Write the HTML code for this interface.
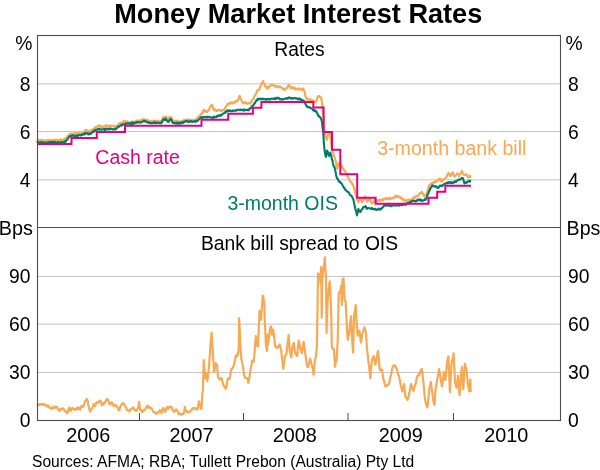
<!DOCTYPE html><html><head><meta charset="utf-8"><style>html,body{margin:0;padding:0;background:#fff;width:600px;height:470px;overflow:hidden}svg{display:block;will-change:transform}</style></head><body><svg width="600" height="470" viewBox="0 0 600 470">
<rect width="600" height="470" fill="#fff"/>
<line x1="38" x2="560" y1="83.8" y2="83.8" stroke="#c6c6c6" stroke-width="1"/>
<line x1="38" x2="560" y1="131.5" y2="131.5" stroke="#c6c6c6" stroke-width="1"/>
<line x1="38" x2="560" y1="179.8" y2="179.8" stroke="#c6c6c6" stroke-width="1"/>
<line x1="38" x2="560" y1="276.5" y2="276.5" stroke="#c6c6c6" stroke-width="1"/>
<line x1="38" x2="560" y1="324.2" y2="324.2" stroke="#c6c6c6" stroke-width="1"/>
<line x1="38" x2="560" y1="372.5" y2="372.5" stroke="#c6c6c6" stroke-width="1"/>
<line x1="139.5" x2="139.5" y1="413" y2="420" stroke="#4a4a4a" stroke-width="1"/>
<line x1="243.5" x2="243.5" y1="413" y2="420" stroke="#4a4a4a" stroke-width="1"/>
<line x1="348" x2="348" y1="413" y2="420" stroke="#4a4a4a" stroke-width="1"/>
<line x1="453.5" x2="453.5" y1="413" y2="420" stroke="#4a4a4a" stroke-width="1"/>
<polyline points="37.0,405.2 37.6,404.8 38.2,405.2 38.8,404.4 39.4,405.2 39.9,403.9 40.5,404.6 41.0,404.7 41.5,404.4 42.0,403.8 42.5,404.8 43.0,403.9 43.5,404.7 44.0,404.9 44.6,404.3 45.1,404.5 45.7,405.4 46.3,405.8 46.9,406.6 47.5,405.3 48.1,405.6 48.7,406.3 49.3,407.1 49.9,408.2 50.4,408.0 51.0,408.4 51.6,407.9 52.1,408.8 52.7,406.7 53.3,407.3 53.9,408.1 54.5,407.0 55.1,406.7 55.7,407.5 56.3,406.7 56.8,407.0 57.4,407.3 58.0,409.2 58.6,409.1 59.2,411.0 59.8,410.6 60.4,410.1 60.9,409.0 61.5,408.7 62.1,409.0 62.6,408.3 63.2,408.5 63.8,409.6 64.4,409.7 65.0,411.3 65.6,411.6 66.2,412.0 66.7,412.4 67.3,413.3 67.9,411.5 68.5,409.3 69.1,407.5 69.7,408.3 70.2,410.4 70.8,411.0 71.4,409.9 72.0,408.1 72.6,407.9 73.2,408.8 73.7,409.1 74.3,409.3 74.9,409.9 75.5,409.5 76.1,408.4 76.7,408.7 77.3,409.4 77.8,407.3 78.4,407.6 79.0,407.5 79.6,409.2 80.2,409.8 80.8,407.4 81.3,406.3 81.9,406.5 82.5,405.8 83.1,406.9 83.7,405.5 84.2,404.0 84.8,401.7 85.4,400.9 86.0,400.5 86.6,398.8 87.2,399.6 87.8,401.1 88.3,404.7 88.9,407.5 89.5,409.7 90.1,411.6 90.7,410.8 91.2,409.6 91.8,408.7 92.4,407.8 93.0,406.5 93.6,404.0 94.2,404.7 94.7,405.9 95.3,406.3 95.9,403.4 96.5,402.3 97.1,402.6 97.7,402.3 98.2,402.8 98.8,401.7 99.4,401.9 100.0,400.5 100.6,400.5 101.2,402.6 101.8,405.2 102.4,405.1 102.9,403.4 103.5,404.0 104.0,403.4 104.5,402.3 105.0,402.5 105.6,400.9 106.2,399.9 106.7,400.4 107.3,399.0 107.9,399.6 108.5,401.1 109.1,402.8 109.7,404.3 110.3,404.6 110.8,402.6 111.4,402.8 112.0,402.5 112.6,403.8 113.2,405.6 113.8,406.0 114.4,406.2 114.9,405.9 115.5,404.8 116.1,405.2 116.7,406.2 117.3,407.2 117.9,407.9 118.4,409.9 119.0,410.1 119.6,409.6 120.2,406.7 120.8,406.0 121.4,404.6 121.9,404.0 122.5,403.3 123.1,403.1 123.7,403.8 124.2,404.8 124.8,405.4 125.4,406.3 126.0,407.1 126.6,409.5 127.2,409.8 127.8,410.1 128.3,411.0 128.9,411.3 129.5,411.4 130.1,410.1 130.7,408.9 131.3,408.7 131.8,408.6 132.4,408.4 133.0,407.8 133.6,407.5 134.2,409.7 134.8,409.5 135.4,410.5 135.9,411.0 136.5,410.7 137.1,410.1 137.7,408.2 138.3,407.2 139.2,401.9 140.0,409.5 140.6,410.1 141.2,410.2 141.8,411.8 142.4,411.9 142.9,410.6 143.5,411.3 144.1,409.8 144.7,409.5 145.3,409.5 145.9,407.7 146.4,406.8 147.0,406.0 147.6,405.7 148.2,406.2 148.8,407.8 149.4,407.3 149.9,407.3 150.5,408.3 151.1,408.4 151.7,408.2 152.3,409.5 152.9,411.2 153.4,411.7 154.0,412.4 154.6,412.1 155.2,412.8 155.7,413.4 156.3,414.2 156.9,413.3 157.5,412.2 158.1,412.4 158.7,412.3 159.2,411.9 159.8,410.1 160.4,411.0 161.0,412.0 161.6,413.0 162.2,410.4 162.7,408.7 163.3,407.8 163.9,408.8 164.5,410.0 165.1,411.8 165.7,411.1 166.2,408.5 166.8,407.8 167.4,407.0 168.0,409.0 168.6,408.3 169.2,407.8 169.7,406.5 170.3,406.6 170.8,406.8 171.3,406.8 171.9,407.6 172.6,410.2 173.2,410.6 173.7,411.8 174.3,411.1 174.9,411.3 175.4,410.4 176.0,409.4 176.6,409.5 177.2,410.6 177.8,412.0 178.5,414.0 179.1,413.2 179.6,414.3 180.2,413.6 180.8,414.0 181.3,414.8 181.9,414.5 182.5,414.0 183.0,413.6 183.6,414.0 184.2,411.0 184.9,406.8 185.6,409.7 186.2,410.6 186.8,411.7 187.3,412.1 187.9,411.9 188.5,412.7 189.0,412.6 189.6,412.3 190.2,411.1 190.7,410.9 191.3,410.2 191.9,409.5 192.4,408.4 193.0,408.9 193.6,407.8 194.1,408.2 194.7,408.5 195.3,408.2 195.8,409.2 196.4,408.9 197.1,409.6 197.7,408.5 198.3,404.8 198.9,401.3 199.6,404.3 200.2,405.5 200.8,408.2 201.5,408.9 202.3,393.6 203.0,390.0 203.7,360.2 204.2,367.1 204.7,371.9 205.2,378.1 205.7,376.0 206.2,374.6 206.7,373.6 207.4,381.1 207.9,376.0 208.4,371.6 208.9,367.7 209.4,360.5 209.9,353.6 210.4,345.3 211.0,339.7 211.6,332.7 212.1,341.2 212.7,349.8 213.4,361.3 214.1,372.1 214.6,369.7 215.1,365.3 215.6,363.2 216.1,364.0 216.6,365.0 217.1,364.7 217.9,376.6 218.4,377.9 219.0,378.6 219.6,378.8 220.1,379.6 220.6,378.5 221.1,379.2 221.6,378.1 222.1,379.7 222.6,382.6 223.1,384.0 223.6,385.9 224.1,385.8 224.6,387.0 225.1,387.3 225.6,388.9 226.1,388.5 226.6,386.0 227.1,381.9 227.6,379.6 228.2,378.5 228.7,378.2 229.2,379.3 229.8,378.1 230.3,375.7 230.8,371.5 231.3,369.2 231.9,369.1 232.4,368.7 232.9,367.3 233.5,366.2 234.0,364.8 234.5,361.7 235.1,359.2 235.6,356.3 236.1,355.3 236.6,354.8 237.2,356.4 237.7,355.2 238.2,352.3 238.8,348.8 239.1,318.1 239.8,331.9 240.4,345.6 240.9,353.4 241.4,359.5 241.9,361.5 242.5,364.5 243.0,365.9 243.6,371.3 244.1,375.4 244.6,376.2 245.2,378.1 245.7,377.7 246.2,377.9 246.8,378.0 247.3,378.6 247.9,380.9 248.4,382.9 248.9,379.8 249.4,377.6 249.9,373.9 250.5,369.7 251.0,366.9 251.6,364.5 252.1,360.5 252.6,360.6 253.2,361.1 253.7,361.6 254.2,356.5 254.7,351.0 255.2,344.3 255.8,336.0 256.5,342.0 257.0,343.4 257.5,346.0 258.0,346.7 258.5,334.7 259.0,322.7 259.5,310.6 260.0,313.7 260.6,315.7 261.1,319.7 261.6,311.6 262.2,303.1 262.7,295.7 263.2,297.0 263.8,300.9 264.3,302.6 264.9,324.0 265.4,333.8 265.9,345.0 266.4,347.9 267.0,351.0 267.5,334.6 268.0,344.6 268.6,341.1 269.1,336.7 269.6,332.2 270.2,327.4 271.1,326.4 271.6,330.3 272.1,334.9 272.6,332.3 273.2,329.6 273.8,334.0 274.3,338.1 274.8,342.9 275.3,346.6 275.8,346.2 276.4,347.5 276.9,347.3 277.4,348.2 277.9,346.8 278.5,346.9 279.1,345.4 279.6,344.5 280.1,346.4 280.7,348.6 281.2,349.8 281.7,355.9 282.2,360.4 282.8,364.5 283.3,368.9 283.8,364.9 284.4,360.4 284.9,356.2 285.4,355.5 286.0,355.1 286.5,354.0 287.1,348.6 287.6,343.4 288.1,339.2 288.6,334.9 289.1,342.3 289.7,349.8 290.2,353.1 290.8,355.1 291.3,357.2 291.8,352.7 292.3,346.6 292.8,346.3 293.4,343.7 293.9,342.9 294.4,347.5 295.0,351.9 295.5,353.9 296.1,354.7 296.6,354.4 297.1,356.2 297.6,350.3 298.2,345.8 298.7,340.7 299.2,342.5 299.8,345.5 300.3,348.7 300.8,349.3 301.4,351.9 301.9,353.0 302.4,349.8 303.0,346.3 303.5,341.8 304.0,344.5 304.6,349.0 305.1,351.9 305.6,356.5 306.2,359.7 306.7,364.7 307.2,366.2 307.8,367.0 308.3,366.8 308.9,363.5 309.4,362.3 310.0,358.7 310.5,360.3 311.1,362.2 311.6,364.0 312.1,367.1 312.7,368.3 313.2,372.2 313.7,374.7 314.2,367.1 314.8,360.9 315.4,358.6 315.9,356.6 316.4,351.3 316.9,346.0 317.5,310.0 318.0,273.4 318.5,273.8 319.1,274.2 319.6,275.5 320.1,278.9 320.6,283.0 321.2,267.0 321.7,317.7 322.2,280.0 322.7,275.9 323.3,270.0 323.8,266.5 324.4,261.8 324.9,257.4 325.4,267.7 326.0,280.0 326.5,333.0 327.1,316.5 327.6,300.6 328.1,295.5 328.6,290.0 329.1,285.7 329.7,281.4 330.2,289.8 330.7,300.0 331.3,316.6 331.8,347.0 332.3,348.5 332.9,348.6 333.4,349.5 333.9,349.1 334.4,357.1 335.0,366.7 335.5,363.9 336.1,361.2 336.6,359.8 337.1,350.8 337.7,340.6 338.2,321.9 338.7,293.2 339.2,292.4 339.8,291.9 340.3,292.3 340.9,286.0 341.4,295.3 341.9,305.0 342.4,279.6 342.9,279.9 343.5,278.5 344.1,290.3 344.6,300.9 345.1,300.4 345.6,300.9 346.1,311.1 346.7,322.8 347.2,332.1 347.8,339.8 348.3,337.1 348.9,334.5 349.4,331.3 349.9,325.5 350.5,320.5 351.0,316.4 351.5,327.9 352.0,338.7 352.6,345.5 353.1,352.6 353.6,333.1 354.1,315.3 354.6,312.8 355.2,308.8 355.7,305.1 356.2,315.1 356.7,323.8 357.6,335.7 358.2,333.2 358.7,333.0 359.3,330.6 359.9,333.7 360.4,339.3 361.0,342.6 361.6,339.1 362.1,335.4 362.7,332.3 363.3,330.7 363.8,329.8 364.4,327.2 365.0,329.0 365.5,331.0 366.1,334.0 366.9,347.7 367.5,352.9 368.0,357.4 368.6,363.0 369.2,367.3 369.7,372.5 370.3,378.3 370.9,371.2 371.4,365.2 372.0,359.6 372.6,358.1 373.1,356.9 373.7,356.2 374.3,359.6 374.8,361.4 375.4,364.7 375.9,362.0 376.4,358.6 377.0,356.2 377.5,352.9 378.0,351.1 378.6,356.8 379.1,362.6 379.7,369.8 380.2,370.3 380.7,370.0 381.2,369.3 381.7,369.9 382.2,370.0 383.0,377.0 383.6,380.2 384.2,380.9 384.8,384.7 385.4,386.4 385.9,385.9 386.4,385.7 386.9,386.0 387.4,384.8 387.9,384.7 388.4,384.7 388.9,384.0 389.4,382.7 389.9,379.1 390.4,377.7 390.9,375.2 391.4,372.7 391.9,369.9 392.4,367.8 393.0,366.9 393.5,365.7 394.1,365.3 394.7,365.4 395.3,365.5 395.9,367.8 396.5,368.3 397.1,370.0 397.6,372.0 398.2,374.8 398.9,375.9 399.5,378.7 400.1,381.9 400.6,384.5 401.1,386.6 401.7,388.8 402.4,391.4 402.9,388.5 403.5,386.0 404.0,384.0 404.7,389.9 405.4,396.6 405.9,397.4 406.5,397.6 407.1,399.0 407.6,400.0 408.1,397.4 408.6,396.7 409.1,393.6 409.7,391.3 410.4,387.3 411.0,384.0 411.6,385.2 412.2,388.4 412.8,388.9 413.4,391.0 413.9,389.2 414.4,386.9 414.9,386.1 415.4,384.7 415.9,383.2 416.4,380.1 416.9,377.0 417.5,375.9 418.1,375.9 418.7,374.4 419.3,374.8 419.8,373.2 420.3,371.7 420.8,371.1 421.3,369.2 421.8,369.0 422.3,372.3 422.8,377.1 423.3,381.7 423.9,387.4 424.5,394.4 425.1,400.5 425.7,402.3 426.2,404.5 426.8,406.1 427.4,407.5 428.0,401.8 428.7,396.0 429.3,389.1 429.8,386.4 430.4,383.9 430.9,381.8 431.5,387.4 432.1,390.4 432.7,396.3 433.3,400.5 433.9,403.0 434.5,405.0 435.1,396.0 435.6,388.8 436.3,385.1 437.0,380.0 437.5,378.0 438.1,374.8 438.6,372.2 439.1,369.0 439.7,373.1 440.2,375.2 440.8,379.5 441.3,382.9 441.9,386.4 442.4,383.5 442.9,379.8 443.4,376.3 443.9,372.0 444.4,374.8 444.9,378.1 445.4,380.0 445.9,375.0 446.4,369.6 446.9,363.8 447.4,360.8 447.9,357.9 448.4,356.4 448.9,367.6 449.4,379.9 449.9,392.1 450.4,381.9 450.9,373.9 451.4,363.8 451.9,361.3 452.5,358.9 453.1,356.3 453.6,353.4 454.1,363.7 454.6,373.2 455.1,383.2 455.6,383.7 456.1,386.8 456.6,387.7 457.1,384.2 457.6,379.7 458.1,375.7 458.6,382.2 459.1,389.0 459.6,395.1 460.2,387.2 460.7,381.4 461.2,373.4 461.8,366.8 462.3,373.4 462.8,381.2 463.3,389.1 463.8,381.1 464.3,371.6 464.8,363.8 465.3,365.8 465.8,367.8 466.3,368.3 466.8,373.3 467.3,378.0 467.8,383.2 468.3,385.9 468.8,389.0 469.3,391.4 469.8,386.0 470.3,379.5 470.7,392.1" fill="none" stroke="#f8a954" stroke-width="2.2" stroke-linejoin="round"/>
<polyline points="37.0,140.5 37.5,140.7 38.0,140.7 38.5,139.8 39.0,140.0 39.5,140.1 40.0,140.9 40.5,140.2 41.0,140.7 41.5,139.8 42.0,139.9 42.5,140.2 43.0,140.9 43.5,140.9 44.0,140.9 44.5,140.3 45.0,140.6 45.5,140.6 46.0,140.5 46.5,140.5 47.0,139.9 47.5,141.2 48.0,140.1 48.5,141.3 49.0,141.2 49.5,139.7 50.0,140.4 50.5,141.0 51.0,141.2 51.5,140.4 52.0,140.1 52.5,140.0 53.0,141.2 53.5,140.0 54.0,140.6 54.5,139.8 55.0,140.4 55.5,140.4 56.0,141.1 56.5,139.7 57.0,140.8 57.5,140.3 58.0,140.9 58.5,140.6 59.0,139.8 59.5,140.8 60.0,140.2 60.5,139.4 61.0,139.4 61.5,140.1 62.0,140.0 62.5,139.8 63.0,139.5 63.5,139.8 64.0,139.7 64.5,140.0 65.0,139.9 65.5,138.0 66.0,138.6 66.5,138.1 67.0,137.0 67.5,135.9 68.1,136.6 68.7,135.7 69.2,135.5 69.8,134.0 70.3,133.8 70.8,133.6 71.3,133.6 71.9,134.6 72.4,133.9 72.9,133.6 73.4,133.7 73.9,133.4 74.4,133.1 75.0,133.2 75.5,134.3 76.0,133.8 76.5,133.4 77.0,134.4 77.5,133.2 78.0,133.2 78.5,133.5 79.0,132.9 79.5,133.2 80.0,133.3 80.5,133.8 81.1,133.5 81.7,133.1 82.2,132.6 82.8,132.9 83.3,132.0 83.8,132.4 84.3,131.4 84.8,131.3 85.3,129.9 85.8,130.6 86.3,129.9 86.9,130.2 87.5,131.1 88.0,131.4 88.6,131.2 89.2,132.0 89.8,130.9 90.3,132.0 90.8,130.4 91.4,130.6 92.0,130.0 92.5,129.9 93.0,129.1 93.6,129.3 94.2,129.2 94.7,127.6 95.2,127.7 95.8,127.0 96.4,126.5 96.9,126.7 97.5,126.2 98.1,125.7 98.6,125.5 99.2,125.8 99.8,125.5 100.3,126.8 100.8,126.4 101.4,126.2 102.0,127.5 102.5,127.0 103.0,127.6 103.5,126.6 104.1,126.0 104.6,125.9 105.1,125.6 105.7,125.8 106.2,125.3 106.7,125.8 107.2,125.4 107.8,125.4 108.3,125.9 108.9,126.4 109.5,126.2 110.0,125.8 110.5,125.7 111.1,125.8 111.7,126.0 112.2,125.9 112.8,125.9 113.3,126.2 113.8,125.7 114.3,126.2 114.9,127.5 115.4,127.0 116.0,125.9 116.6,126.0 117.1,125.7 117.7,125.6 118.3,124.5 118.9,123.7 119.4,123.4 120.0,123.0 120.6,122.9 121.1,122.7 121.7,122.4 122.2,123.0 122.7,122.6 123.2,122.5 123.7,121.0 124.2,121.6 124.7,120.9 125.3,122.1 125.8,122.5 126.3,121.8 126.8,122.1 127.4,121.2 127.9,121.9 128.4,122.9 128.9,122.8 129.5,122.9 130.0,122.4 130.5,123.0 131.0,121.8 131.5,121.4 132.0,121.4 132.5,121.9 133.0,122.0 133.5,122.3 134.0,121.9 134.5,121.6 135.0,121.3 135.5,121.7 136.0,121.2 136.5,121.3 137.0,120.4 137.5,121.6 138.0,120.7 138.5,121.8 139.0,121.3 139.5,120.7 140.0,121.0 140.5,120.2 141.0,120.3 141.5,120.7 142.0,120.7 142.5,119.5 143.0,120.0 143.5,119.2 144.0,119.8 144.5,119.8 145.0,119.5 145.5,119.6 146.0,119.6 146.5,120.4 147.0,120.5 147.5,119.9 148.0,120.4 148.5,120.8 149.0,121.8 149.5,121.4 150.0,121.3 150.5,121.9 151.0,121.3 151.5,120.9 152.0,120.9 152.5,122.1 153.0,121.7 153.5,121.1 154.0,120.6 154.5,121.4 155.0,121.7 155.5,121.3 156.0,121.0 156.5,121.7 157.0,122.1 157.5,121.0 158.0,120.7 158.5,121.2 159.0,121.4 159.5,121.8 160.0,121.5 160.5,120.9 161.0,121.7 161.5,121.5 162.0,121.0 162.5,119.4 163.0,117.8 163.5,117.2 164.0,118.4 164.5,117.2 165.0,118.0 165.5,117.0 166.0,117.3 166.5,117.2 167.0,118.3 167.5,117.9 168.0,118.5 168.5,119.0 169.0,118.0 169.5,117.2 170.0,117.5 170.7,117.1 171.3,117.5 171.9,118.9 172.5,120.5 173.0,120.9 173.5,121.5 174.0,120.4 174.5,121.0 175.0,121.3 175.5,120.9 176.0,122.1 176.5,120.8 177.0,120.7 177.5,120.7 178.0,121.2 178.5,122.1 179.0,122.1 179.5,121.9 180.0,121.5 180.5,122.3 181.0,122.1 181.5,121.1 182.0,120.9 182.5,122.0 183.0,121.3 183.5,121.4 184.0,119.9 184.5,120.6 185.0,120.0 185.5,119.8 186.0,119.8 186.5,119.8 187.0,119.6 187.5,119.3 188.0,119.8 188.5,119.9 189.0,120.9 189.5,119.6 190.0,120.2 190.5,121.0 191.0,119.8 191.5,120.1 192.0,120.8 192.5,120.9 193.0,120.3 193.5,119.7 194.0,120.4 194.5,120.3 195.0,120.5 195.6,120.6 196.1,118.9 196.7,118.6 197.2,118.9 197.8,116.9 198.3,117.1 198.9,116.5 199.4,116.6 200.0,116.1 200.6,114.4 201.1,113.9 201.7,114.2 202.2,112.4 202.7,112.6 203.2,110.4 203.8,109.6 204.3,110.5 204.8,111.3 205.3,110.9 205.8,111.7 206.3,111.2 206.8,112.1 207.3,111.3 207.8,110.6 208.3,110.8 208.8,110.1 209.4,108.5 209.9,107.4 210.4,106.7 211.0,105.3 211.5,106.0 212.1,105.0 212.7,107.2 213.2,108.3 213.8,109.6 214.3,110.5 214.8,109.2 215.3,109.8 215.8,110.4 216.4,110.3 216.9,111.0 217.5,110.9 218.1,110.0 218.6,109.7 219.2,110.0 219.8,110.0 220.3,110.1 220.8,110.9 221.4,109.8 221.9,110.8 222.5,110.4 223.0,110.4 223.5,110.1 224.0,109.6 224.5,108.9 225.0,108.3 225.5,107.2 226.0,106.4 226.5,105.6 227.0,105.5 227.5,104.2 228.1,103.4 228.6,103.4 229.2,104.2 229.7,103.2 230.2,102.8 230.8,103.3 231.4,102.4 231.9,103.0 232.5,102.4 233.1,103.3 233.6,102.9 234.2,102.1 234.8,102.7 235.3,101.4 235.8,101.0 236.4,100.9 236.9,101.4 237.5,101.2 238.0,100.2 238.6,98.4 239.1,96.7 239.6,95.8 240.2,97.4 240.8,99.2 241.3,100.2 241.8,101.1 242.3,102.1 242.8,103.0 243.3,103.3 244.0,102.5 244.5,102.9 245.0,102.1 245.5,103.4 246.0,102.7 246.5,103.2 247.0,103.0 247.5,103.8 248.0,103.5 248.5,103.0 249.0,103.1 249.5,103.1 250.0,103.5 250.5,102.2 251.0,102.6 251.5,101.4 252.0,100.2 252.5,99.6 253.0,99.0 253.5,98.9 254.0,97.3 254.5,95.9 255.0,95.5 255.5,94.9 256.0,93.5 256.5,92.9 257.0,91.0 257.5,89.9 258.0,90.0 258.5,90.0 259.0,89.5 259.5,89.2 260.0,88.0 260.5,86.1 261.0,85.3 261.5,83.9 262.0,82.8 262.5,82.9 263.0,81.0 263.5,82.3 264.0,83.9 264.5,84.2 265.0,85.5 265.5,86.8 266.0,86.9 266.5,87.4 267.0,88.5 267.5,88.5 268.0,88.4 268.5,86.6 269.0,87.0 269.5,86.6 270.0,86.0 270.5,85.4 271.0,85.5 271.5,84.9 272.0,84.9 272.5,84.8 273.0,85.0 273.5,85.5 274.0,86.0 274.5,85.7 275.0,86.5 275.5,85.8 276.0,86.3 276.5,86.9 277.0,86.2 277.5,86.4 278.0,86.3 278.5,87.3 279.0,87.0 279.5,86.3 280.0,87.0 280.5,86.6 281.0,87.3 281.5,87.8 282.0,88.0 282.5,88.7 283.0,88.3 283.5,89.0 284.0,90.0 284.5,90.0 285.0,89.3 285.6,88.9 286.1,88.4 286.7,88.5 287.2,87.3 287.7,87.4 288.2,85.4 288.8,84.8 289.3,85.6 289.8,86.0 290.3,86.8 290.8,87.7 291.3,88.3 291.8,88.5 292.3,87.5 292.8,87.2 293.3,87.7 293.8,88.4 294.3,87.9 294.8,87.9 295.3,89.6 295.8,89.3 296.4,89.0 297.0,89.5 297.6,88.7 298.2,89.3 298.8,88.5 299.3,88.7 299.8,88.6 300.3,88.7 300.8,89.8 301.3,89.7 301.8,89.6 302.3,89.9 302.8,88.4 303.3,88.9 304.0,90.5 304.6,91.8 305.4,96.0 306.0,97.4 306.7,99.3 307.2,99.4 307.8,98.9 308.4,99.2 308.9,99.6 309.4,100.4 310.0,99.8 310.6,99.3 311.1,100.2 311.6,100.9 312.2,101.3 312.8,100.3 313.3,101.0 313.8,100.6 314.4,102.1 314.9,101.6 315.5,102.1 316.0,101.0 316.6,100.8 317.2,97.9 317.9,96.5 318.5,97.0 319.0,96.1 319.6,96.1 320.2,97.4 320.9,97.4 321.7,100.8 322.4,105.0 322.8,108.0 323.0,112.0 323.7,121.3 324.4,130.3 324.9,134.0 325.4,136.6 325.9,137.1 326.5,139.2 327.0,139.8 327.6,136.2 328.1,133.4 328.6,133.1 329.2,133.6 329.7,132.9 330.2,136.9 330.8,139.8 331.3,144.1 331.8,149.4 332.3,150.4 332.9,152.1 333.4,153.7 333.9,155.6 334.5,157.2 335.1,158.6 335.6,161.1 336.1,163.2 336.6,166.5 337.1,168.6 337.6,167.4 338.2,164.3 338.7,163.2 339.2,163.7 339.8,164.3 340.3,164.3 340.9,164.4 341.4,166.4 341.9,166.1 342.5,167.5 343.0,168.5 343.6,169.2 344.1,170.1 344.6,170.7 345.1,171.2 345.6,172.2 346.2,173.2 346.7,173.9 347.2,175.0 347.7,176.6 348.2,177.4 348.8,178.6 349.3,179.1 349.8,181.1 350.3,181.8 350.8,182.1 351.4,182.2 351.9,183.6 352.4,183.7 352.9,185.5 353.4,186.3 353.9,187.2 354.4,189.0 355.0,191.6 355.7,194.3 356.4,196.3 357.0,199.6 357.7,200.3 358.4,202.2 359.0,201.0 359.7,199.3 360.3,198.9 360.8,199.6 361.3,200.6 361.8,200.6 362.3,202.2 362.8,201.2 363.4,199.2 363.9,199.0 364.5,197.9 365.0,196.3 365.6,198.1 366.3,199.1 366.9,201.6 367.4,201.1 368.0,200.3 368.5,200.7 369.1,198.9 369.6,198.9 370.1,200.4 370.6,201.5 371.2,202.0 371.7,203.1 372.2,203.5 372.7,202.2 373.3,202.7 373.8,201.1 374.4,201.1 374.9,199.6 375.4,200.5 375.9,199.6 376.5,200.8 377.0,201.3 377.5,200.9 378.0,200.1 378.6,200.4 379.1,200.9 379.6,199.8 380.1,200.9 380.7,199.8 381.2,200.5 381.7,199.3 382.3,199.7 382.8,199.6 383.3,200.2 383.8,198.9 384.4,198.9 384.9,199.2 385.4,198.8 385.9,198.2 386.4,198.3 387.0,198.2 387.5,199.3 388.0,198.5 388.5,198.8 389.0,199.1 389.5,198.0 390.0,199.0 390.5,197.9 391.0,198.5 391.5,198.7 392.0,198.5 392.5,197.9 393.0,198.4 393.5,197.6 394.0,197.3 394.5,197.4 395.0,196.5 395.5,195.7 396.0,197.0 396.5,196.3 397.0,196.0 397.5,196.0 398.0,196.8 398.5,196.1 399.0,197.5 399.5,197.0 400.0,197.0 400.5,197.3 401.0,198.4 401.5,198.4 402.0,199.0 402.5,198.7 403.0,199.9 403.5,199.0 404.0,200.5 404.5,199.9 405.0,200.5 405.5,200.6 406.0,201.1 406.5,200.4 407.0,200.4 407.5,199.8 408.0,200.0 408.5,199.5 409.0,199.8 409.5,200.2 410.0,201.0 410.5,200.7 411.0,199.9 411.5,199.5 412.0,199.0 412.5,199.4 413.0,197.9 413.5,197.8 414.0,198.2 414.5,197.0 415.0,197.5 415.5,196.5 416.0,196.8 416.5,196.1 417.0,196.3 417.5,195.8 418.0,196.0 418.5,195.4 419.0,194.7 419.5,193.4 420.0,193.1 420.6,193.1 421.1,192.7 421.6,191.9 422.2,192.3 422.8,194.1 423.4,194.1 423.9,195.1 424.5,196.8 425.0,195.7 425.5,196.0 426.0,195.3 426.6,194.2 427.1,192.4 427.6,190.1 428.2,188.6 428.7,187.0 429.2,185.4 429.7,184.9 430.2,184.7 430.8,184.0 431.3,183.2 431.9,183.0 432.4,183.0 432.9,182.5 433.4,183.1 433.9,182.6 434.4,181.7 434.9,181.9 435.4,182.4 436.0,180.8 436.6,181.4 437.1,181.2 437.6,180.5 438.1,179.7 438.7,178.9 439.2,179.6 439.7,178.6 440.3,178.8 441.0,180.6 441.6,181.5 442.2,181.7 442.7,179.8 443.2,179.4 443.8,179.3 444.4,179.0 445.0,178.4 445.5,178.1 446.1,177.4 446.6,177.0 447.1,175.1 447.7,174.5 448.2,173.6 448.7,173.0 449.4,173.8 450.0,176.0 450.5,176.1 451.0,175.5 451.5,174.5 452.0,174.2 452.5,172.4 453.0,172.5 453.5,174.4 454.0,175.6 454.5,176.5 455.0,175.9 455.5,175.9 456.0,175.0 456.5,174.4 457.0,173.6 457.5,173.5 458.0,173.7 458.5,174.7 459.0,176.0 459.5,174.4 460.0,174.1 460.5,173.5 461.0,173.1 461.5,172.1 462.0,171.0 462.5,172.7 463.0,173.7 463.5,174.5 464.0,174.3 464.5,174.9 465.0,175.0 465.5,174.7 466.0,175.1 466.5,174.5 467.0,175.5 467.5,176.1 468.0,177.5 468.5,177.2 469.0,177.2 469.5,176.0 470.0,175.6 470.5,176.7 471.0,176.2" fill="none" stroke="#f8a954" stroke-width="2.2" stroke-linejoin="round"/>
<polyline points="37.0,142.5 37.5,141.8 38.0,142.2 38.5,142.1 39.0,142.8 39.5,143.1 40.0,142.8 40.5,142.2 41.0,143.0 41.5,142.2 42.0,142.1 42.5,143.0 43.0,142.6 43.5,142.7 44.0,142.6 44.5,143.1 45.0,142.4 45.5,142.4 46.0,142.9 46.5,142.7 47.0,142.9 47.5,142.3 48.0,142.7 48.5,142.5 49.0,142.2 49.5,142.0 50.0,142.6 50.5,141.9 51.0,143.0 51.5,142.0 52.0,141.8 52.5,141.9 53.0,143.1 53.5,142.3 54.0,142.0 54.5,141.8 55.0,142.5 55.5,141.9 56.0,142.8 56.5,142.7 57.0,142.8 57.5,142.8 58.0,141.9 58.5,142.6 59.0,142.3 59.5,142.9 60.0,142.9 60.5,143.0 61.0,141.8 61.5,142.9 62.0,143.0 62.5,143.0 63.0,141.9 63.5,142.0 64.0,141.9 64.5,142.4 65.0,141.2 65.5,141.7 66.0,141.1 66.5,140.3 67.0,139.5 67.5,139.4 68.1,138.5 68.7,137.5 69.2,136.6 69.8,136.0 70.3,136.0 70.8,136.3 71.3,135.6 71.9,135.7 72.4,135.8 72.9,135.2 73.4,135.6 73.9,135.6 74.4,136.2 75.0,135.7 75.5,135.6 76.0,135.8 76.5,136.4 77.0,135.7 77.5,136.1 78.0,135.7 78.5,134.8 79.0,135.3 79.5,135.3 80.0,135.3 80.5,135.5 81.1,134.8 81.7,135.1 82.2,134.7 82.8,134.1 83.3,134.3 83.9,134.6 84.4,133.4 85.0,134.2 85.6,133.2 86.1,132.8 86.7,133.3 87.2,133.0 87.8,134.0 88.3,134.5 88.9,133.3 89.5,134.1 90.0,134.3 90.5,133.8 91.0,133.8 91.5,132.5 92.0,132.5 92.5,132.0 93.0,131.5 93.5,131.8 94.1,130.7 94.6,131.4 95.1,130.1 95.7,129.7 96.2,130.1 96.7,129.5 97.2,129.4 97.8,128.8 98.3,129.5 98.9,128.6 99.5,129.6 100.0,129.1 100.5,129.4 101.1,129.6 101.7,129.5 102.2,129.2 102.8,129.3 103.3,129.5 103.9,129.3 104.4,129.9 105.0,128.7 105.6,129.8 106.1,128.5 106.7,129.1 107.2,128.6 107.7,128.7 108.2,129.5 108.8,128.9 109.3,128.7 109.8,129.3 110.3,128.4 110.8,128.7 111.3,128.7 111.8,128.9 112.4,129.4 112.9,129.5 113.4,129.4 114.0,129.1 114.5,129.2 115.0,129.5 115.5,128.6 116.0,129.1 116.5,128.5 117.0,128.2 117.5,127.4 118.0,126.6 118.5,126.7 119.0,126.8 119.5,126.2 120.0,125.8 120.5,125.1 121.1,125.3 121.7,125.7 122.2,124.6 122.8,124.3 123.3,124.5 123.9,124.1 124.4,124.5 125.0,124.6 125.6,123.5 126.1,123.4 126.7,123.7 127.2,123.3 127.8,123.5 128.3,123.7 128.9,123.2 129.4,123.5 130.0,123.7 130.5,123.2 131.0,124.2 131.5,123.7 132.0,122.7 132.5,123.8 133.0,122.5 133.5,122.8 134.0,123.6 134.5,123.2 135.0,122.7 135.5,123.0 136.0,122.6 136.5,122.2 137.0,122.8 137.5,122.0 138.0,122.2 138.5,122.4 139.0,121.9 139.5,122.4 140.0,122.5 140.5,122.7 141.0,122.4 141.5,122.0 142.0,122.0 142.5,121.6 143.0,121.5 143.5,120.8 144.0,121.2 144.5,120.8 145.0,120.7 145.5,121.4 146.0,121.9 146.5,121.6 147.0,122.0 147.5,122.2 148.0,122.6 148.5,122.2 149.0,122.1 149.5,122.9 150.0,122.7 150.5,123.2 151.0,123.1 151.5,123.0 152.0,123.2 152.5,123.0 153.0,123.0 153.5,122.7 154.0,122.5 154.5,123.0 155.0,122.2 155.5,122.7 156.0,123.2 156.5,123.1 157.0,123.0 157.5,122.5 158.0,122.8 158.5,122.8 159.0,123.1 159.5,122.8 160.0,122.9 160.5,123.0 161.0,123.3 161.5,122.2 162.0,122.5 162.5,121.2 163.0,119.5 163.5,119.9 164.0,119.3 164.5,119.4 165.0,120.0 165.5,118.7 166.0,119.3 166.5,120.1 167.0,120.3 167.5,121.5 168.0,121.9 168.5,121.5 169.0,121.5 169.5,120.2 170.0,119.5 170.7,118.9 171.3,119.5 171.9,121.1 172.5,122.5 173.0,122.7 173.5,123.0 174.0,122.8 174.5,123.1 175.0,123.0 175.5,123.5 176.0,123.0 176.5,122.9 177.0,123.6 177.5,122.6 178.0,123.3 178.5,122.8 179.0,123.4 179.5,122.5 180.0,123.0 180.5,123.7 181.0,122.8 181.5,122.4 182.0,122.7 182.5,122.9 183.0,123.0 183.5,121.9 184.0,122.0 184.5,121.6 185.0,121.3 185.5,121.6 186.0,121.1 186.5,121.0 187.0,121.0 187.5,121.7 188.0,122.0 188.5,121.5 189.0,121.1 189.5,121.9 190.0,121.5 190.5,121.3 191.0,121.1 191.5,121.0 192.0,121.9 192.5,121.9 193.0,121.7 193.5,121.5 194.0,121.6 194.5,121.1 195.0,121.5 195.6,121.9 196.1,120.8 196.7,120.9 197.2,120.9 197.8,120.7 198.3,120.0 198.9,119.5 199.4,118.7 200.0,118.6 200.6,117.5 201.1,118.1 201.7,117.1 202.2,117.0 202.8,117.7 203.3,117.0 203.9,117.2 204.4,117.1 205.0,117.5 205.6,117.3 206.1,116.9 206.7,116.6 207.2,117.5 207.8,116.9 208.3,117.1 208.9,116.8 209.4,117.0 210.0,117.3 210.6,117.3 211.1,117.6 211.7,117.5 212.2,117.7 212.8,117.2 213.3,117.9 213.9,117.7 214.4,116.5 215.0,117.1 215.6,117.3 216.1,117.2 216.7,116.8 217.2,115.7 217.8,116.5 218.3,115.8 218.9,115.9 219.4,114.9 220.0,114.7 220.6,115.9 221.1,115.4 221.7,115.0 222.2,114.3 222.7,113.8 223.2,113.5 223.7,113.3 224.2,113.3 224.7,113.2 225.2,112.1 225.7,111.3 226.2,111.9 226.7,110.8 227.2,111.1 227.8,110.2 228.3,111.1 228.9,110.7 229.4,110.9 230.0,110.4 230.6,110.7 231.1,111.1 231.7,111.0 232.2,111.1 232.8,110.3 233.3,110.8 233.9,110.9 234.4,110.6 235.0,110.7 235.6,110.2 236.1,110.7 236.7,110.0 237.2,110.1 237.8,109.7 238.3,109.7 238.9,109.6 239.4,110.2 240.0,110.2 240.5,109.6 241.0,110.1 241.5,109.6 242.0,110.1 242.5,110.1 243.0,110.1 243.5,110.6 244.0,109.3 244.5,110.5 245.0,110.0 245.5,109.9 246.1,110.0 246.6,110.1 247.1,110.3 247.6,109.6 248.1,109.6 248.7,110.3 249.2,109.6 249.7,108.4 250.3,108.7 250.8,107.9 251.3,107.5 251.8,106.1 252.3,106.3 252.8,105.8 253.3,105.0 253.9,104.8 254.4,103.1 255.0,103.2 255.6,101.7 256.1,100.8 256.7,100.0 257.2,100.3 257.7,98.8 258.2,99.6 258.7,99.2 259.2,98.8 259.7,98.6 260.3,99.3 260.8,98.7 261.3,98.9 261.8,99.0 262.4,99.4 262.9,98.6 263.4,99.0 263.9,99.0 264.5,99.2 265.0,99.2 265.5,99.6 266.0,98.9 266.5,99.6 267.0,99.0 267.5,99.1 268.0,98.8 268.5,99.1 269.0,99.7 269.5,99.2 270.0,99.0 270.6,99.4 271.1,98.7 271.6,98.6 272.2,98.6 272.8,98.9 273.3,98.8 273.8,98.9 274.4,99.0 274.9,97.9 275.4,98.8 275.9,99.0 276.4,98.5 277.0,97.7 277.5,98.3 278.0,98.1 278.6,97.8 279.1,98.2 279.6,99.3 280.1,99.0 280.6,99.2 281.2,99.5 281.7,99.2 282.2,99.7 282.8,99.2 283.3,99.1 283.9,99.0 284.4,99.0 284.9,98.8 285.5,98.8 286.0,98.5 286.5,98.0 287.0,98.6 287.5,98.2 288.0,98.6 288.5,97.6 289.0,97.6 289.5,97.3 290.0,97.9 290.5,98.3 291.1,98.6 291.6,98.3 292.1,97.9 292.6,98.6 293.2,98.6 293.7,98.4 294.2,98.0 294.7,98.1 295.3,98.3 295.8,98.5 296.3,98.3 296.9,98.6 297.4,99.0 297.9,99.5 298.4,98.4 298.9,99.2 299.5,98.6 300.0,99.3 300.6,98.9 301.2,100.1 301.7,99.9 302.3,100.6 302.9,100.2 303.5,100.8 304.0,100.9 304.6,102.3 305.2,103.4 305.8,104.8 306.4,105.5 306.9,106.5 307.4,107.1 308.0,107.0 308.5,107.1 309.0,107.2 309.5,107.0 310.0,107.7 310.5,108.3 311.0,108.1 311.5,108.4 312.0,108.6 312.5,109.0 313.0,110.1 313.5,110.5 314.0,109.9 314.5,111.2 315.0,110.1 315.5,111.4 316.0,111.0 316.5,111.5 317.0,113.0 317.5,113.6 318.0,115.5 318.5,116.2 319.0,115.9 319.5,117.0 320.0,117.0 320.5,117.6 321.0,119.0 321.5,119.9 322.0,122.0 322.6,127.6 323.3,132.4 323.9,144.0 324.4,148.6 324.9,152.6 325.4,155.2 326.0,156.9 326.5,154.0 327.0,150.5 327.6,151.5 328.1,153.7 328.6,154.9 329.2,155.8 329.7,154.5 330.2,152.6 330.8,154.1 331.3,155.8 331.8,158.9 332.4,160.4 332.9,163.2 333.4,165.5 333.9,166.7 334.5,167.3 335.0,169.6 335.5,171.5 336.1,174.9 336.6,177.2 337.1,178.6 337.6,178.6 338.1,179.9 338.6,181.1 339.1,181.7 339.6,181.3 340.1,182.6 340.6,182.4 341.1,183.2 341.6,183.4 342.2,184.6 342.7,185.7 343.2,186.4 343.7,187.1 344.2,188.2 344.8,188.2 345.3,189.9 345.8,190.3 346.3,190.5 346.9,191.3 347.4,191.7 348.0,191.8 348.5,192.3 349.1,192.8 349.6,194.0 350.1,194.9 350.7,195.4 351.2,195.7 351.8,196.3 352.4,197.5 353.1,198.8 353.7,200.9 354.2,203.9 354.7,205.8 355.2,208.3 355.7,210.1 356.4,212.5 357.0,215.4 357.7,212.2 358.4,208.8 359.0,210.6 359.7,211.5 360.3,212.1 360.8,211.3 361.4,210.0 361.9,209.2 362.5,209.0 363.0,207.5 363.5,207.1 364.0,207.2 364.6,206.9 365.1,207.0 365.6,206.2 366.2,207.9 366.9,208.8 367.4,208.4 368.0,207.9 368.5,208.1 369.1,208.2 369.6,208.2 370.2,208.4 370.7,208.8 371.3,209.0 371.8,207.9 372.4,209.1 372.9,209.2 373.5,208.8 374.0,209.4 374.5,209.1 375.0,208.7 375.5,209.6 376.0,209.7 376.5,209.6 377.0,210.0 377.5,209.5 378.0,209.2 378.5,208.7 379.0,209.3 379.5,209.6 380.0,208.6 380.5,209.3 381.0,209.5 381.5,208.8 382.0,207.8 382.5,207.6 383.1,207.1 383.6,206.1 384.1,205.5 384.7,205.0 385.2,205.1 385.8,205.7 386.3,205.7 386.9,205.2 387.4,204.7 388.0,205.2 388.5,205.7 389.0,205.8 389.5,205.1 390.0,205.6 390.5,205.7 391.0,206.1 391.5,206.1 392.0,205.6 392.5,205.5 393.0,205.7 393.5,205.1 394.0,205.1 394.5,205.1 395.0,205.5 395.5,205.7 396.0,205.2 396.5,205.4 397.0,205.2 397.5,205.3 398.0,204.7 398.5,204.5 399.0,205.8 399.5,204.9 400.0,205.0 400.5,204.4 401.0,205.1 401.5,205.3 402.0,204.3 402.5,204.9 403.0,204.5 403.5,204.7 404.0,203.9 404.5,203.9 405.0,204.5 405.5,204.9 406.0,204.5 406.5,203.7 407.0,203.5 407.5,202.8 408.0,203.3 408.5,202.5 409.0,203.0 409.5,202.4 410.0,201.8 410.5,202.2 411.0,202.3 411.5,201.2 412.0,200.8 412.5,201.0 413.0,200.9 413.5,200.7 414.0,200.5 414.5,201.2 415.0,201.0 415.5,201.4 416.0,200.6 416.5,201.1 417.0,200.9 417.5,199.6 418.0,200.0 418.5,200.1 419.0,199.8 419.5,199.3 420.0,199.8 420.5,200.6 421.0,199.7 421.5,200.2 422.0,200.5 422.5,201.0 423.0,200.5 423.5,200.5 424.0,199.9 424.5,199.7 425.0,199.0 425.5,199.9 426.0,199.0 426.6,198.4 427.1,196.0 427.6,194.5 428.2,193.8 428.8,192.0 429.3,190.6 429.8,189.9 430.4,187.9 431.0,187.8 431.5,187.1 432.1,185.3 432.7,185.3 433.3,185.9 433.9,186.0 434.4,186.2 435.0,186.9 435.6,186.4 436.2,186.2 436.8,186.7 437.3,187.9 437.9,187.9 438.4,187.9 439.0,187.0 439.6,185.9 440.1,185.6 440.7,185.8 441.2,186.2 441.8,185.3 442.3,186.0 442.9,185.3 443.5,184.7 444.0,184.0 444.6,184.1 445.1,183.9 445.6,183.3 446.1,183.2 446.6,182.9 447.1,183.4 447.6,183.0 448.2,182.2 448.8,183.2 449.4,182.3 450.0,182.7 450.5,182.0 451.0,183.2 451.5,182.2 452.0,183.2 452.5,183.0 453.0,182.5 453.5,182.9 454.0,181.7 454.5,182.1 455.0,182.0 455.5,181.1 456.0,181.9 456.5,181.4 457.0,180.5 457.5,180.4 458.0,179.9 458.5,179.5 459.0,179.5 459.5,179.8 460.0,179.2 460.5,179.3 461.0,179.0 461.5,178.2 462.0,177.9 462.5,178.0 463.0,178.4 463.5,180.0 464.0,182.0 464.5,183.5 465.0,183.2 465.5,182.3 466.0,182.5 466.6,182.8 467.1,181.7 467.7,181.6 468.3,181.5 468.8,180.9 469.4,180.9 469.9,181.6 470.5,180.7 471.0,180.8" fill="none" stroke="#007d6a" stroke-width="2.1" stroke-linejoin="round"/>
<polyline points="37.0,144.0 71.5,144.0 71.5,138.0 96.8,138.0 96.8,131.9 125.0,131.9 125.0,125.8 201.5,125.8 201.5,119.8 228.2,119.8 228.2,113.8 252.9,113.8 252.9,107.8 261.4,107.8 261.4,101.9 313.3,101.9 313.3,107.6 323.6,107.6 323.6,131.9 332.0,131.9 332.0,149.7 340.3,149.7 340.3,174.2 357.2,174.2 357.2,197.8 375.6,197.8 375.6,203.8 428.5,203.8 428.5,197.8 437.2,197.8 437.2,191.8 445.3,191.8 445.3,185.8 471.0,185.8" fill="none" stroke="#e6007e" stroke-width="2"/>
<rect x="37.5" y="35.5" width="523" height="385" fill="none" stroke="#4d4d4d" stroke-width="1.1"/>
<line x1="37" x2="561" y1="227.5" y2="227.5" stroke="#4d4d4d" stroke-width="1.1"/>
<text x="298.3" y="0" transform="translate(0,23.1) scale(1,1.05)" font-family="Liberation Sans, sans-serif" font-size="27.15" font-weight="bold" text-anchor="middle" fill="#000">Money Market Interest Rates</text>
<text x="299.5" y="56.4" font-family="Liberation Sans, sans-serif" font-size="19.3" text-anchor="middle" fill="#000">Rates</text>
<text x="299.5" y="249.6" font-family="Liberation Sans, sans-serif" font-size="19.3" text-anchor="middle" fill="#000">Bank bill spread to OIS</text>
<text x="32.5" y="50.2" font-family="Liberation Sans, sans-serif" font-size="19.3" text-anchor="end">%</text>
<text x="565.6" y="50.2" font-family="Liberation Sans, sans-serif" font-size="19.3">%</text>
<text x="30.5" y="90.5" font-family="Liberation Sans, sans-serif" font-size="19.3" text-anchor="end">8</text>
<text x="568" y="90.5" font-family="Liberation Sans, sans-serif" font-size="19.3">8</text>
<text x="30.5" y="138.5" font-family="Liberation Sans, sans-serif" font-size="19.3" text-anchor="end">6</text>
<text x="568" y="138.5" font-family="Liberation Sans, sans-serif" font-size="19.3">6</text>
<text x="30.5" y="186.5" font-family="Liberation Sans, sans-serif" font-size="19.3" text-anchor="end">4</text>
<text x="568" y="186.5" font-family="Liberation Sans, sans-serif" font-size="19.3">4</text>
<text x="32.8" y="235.1" font-family="Liberation Sans, sans-serif" font-size="19.8" text-anchor="end">Bps</text>
<text x="566.6" y="235.1" font-family="Liberation Sans, sans-serif" font-size="19.6">Bps</text>
<text x="30.5" y="283.2" font-family="Liberation Sans, sans-serif" font-size="19.3" text-anchor="end">90</text>
<text x="568" y="283.2" font-family="Liberation Sans, sans-serif" font-size="19.3">90</text>
<text x="30.5" y="331.0" font-family="Liberation Sans, sans-serif" font-size="19.3" text-anchor="end">60</text>
<text x="568" y="331.0" font-family="Liberation Sans, sans-serif" font-size="19.3">60</text>
<text x="30.5" y="379.0" font-family="Liberation Sans, sans-serif" font-size="19.3" text-anchor="end">30</text>
<text x="568" y="379.0" font-family="Liberation Sans, sans-serif" font-size="19.3">30</text>
<text x="30.5" y="427.2" font-family="Liberation Sans, sans-serif" font-size="19.3" text-anchor="end">0</text>
<text x="568" y="427.2" font-family="Liberation Sans, sans-serif" font-size="19.3">0</text>
<text x="88.2" y="441.6" font-family="Liberation Sans, sans-serif" font-size="19.8" text-anchor="middle">2006</text>
<text x="191.6" y="441.6" font-family="Liberation Sans, sans-serif" font-size="19.8" text-anchor="middle">2007</text>
<text x="294.7" y="441.6" font-family="Liberation Sans, sans-serif" font-size="19.8" text-anchor="middle">2008</text>
<text x="400.7" y="441.6" font-family="Liberation Sans, sans-serif" font-size="19.8" text-anchor="middle">2009</text>
<text x="506.2" y="441.6" font-family="Liberation Sans, sans-serif" font-size="19.8" text-anchor="middle">2010</text>
<text x="32" y="466.7" font-family="Liberation Sans, sans-serif" font-size="15.6">Sources: AFMA; RBA; Tullett Prebon (Australia) Pty Ltd</text>
<text x="95.3" y="163.7" font-family="Liberation Sans, sans-serif" font-size="19.5" fill="#e6007e">Cash rate</text>
<text x="227.4" y="209.6" font-family="Liberation Sans, sans-serif" font-size="19.5" fill="#007d6a">3-month OIS</text>
<text x="377.2" y="154.5" font-family="Liberation Sans, sans-serif" font-size="19.6" fill="#f8a954">3-month bank bill</text>
</svg></body></html>
